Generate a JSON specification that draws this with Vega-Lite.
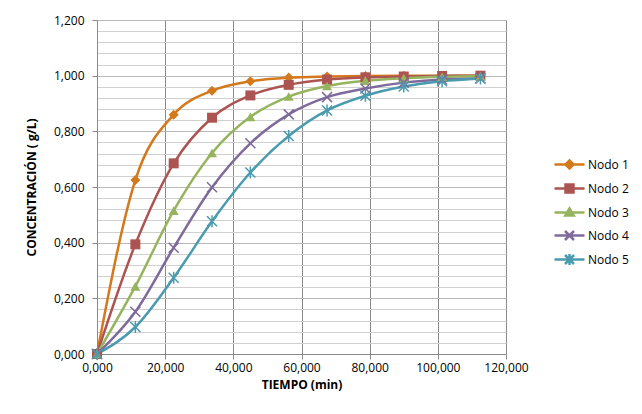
{
  "$schema": "https://vega.github.io/schema/vega-lite/v6.json",
  "width": 409,
  "height": 334,
  "autosize": {"type": "none"},
  "padding": {"left": 97, "top": 20, "right": 136, "bottom": 60},
  "background": "white",
  "config": {
    "view": {"stroke": null},
    "locale": {"number": {"decimal": ",", "thousands": ".", "grouping": [3], "currency": ["", " €"]}},
    "font": "Open Sans",
    "axis": {
      "labelFont": "Open Sans",
      "labelFontSize": 12,
      "labelColor": "#000000",
      "titleFont": "Open Sans",
      "titleFontSize": 12,
      "titleFontWeight": "bold",
      "titleColor": "#000000",
      "domainColor": "#8a8a8a",
      "tickColor": "#8a8a8a",
      "tickSize": 5
    }
  },
  "data": {
    "values": [
      {"Nodo": "Nodo 1", "t": 0, "c": 0},
      {"Nodo": "Nodo 1", "t": 11.25, "c": 0.625},
      {"Nodo": "Nodo 1", "t": 22.5, "c": 0.86},
      {"Nodo": "Nodo 1", "t": 33.75, "c": 0.946},
      {"Nodo": "Nodo 1", "t": 45, "c": 0.98},
      {"Nodo": "Nodo 1", "t": 56.25, "c": 0.993},
      {"Nodo": "Nodo 1", "t": 67.5, "c": 0.997},
      {"Nodo": "Nodo 1", "t": 78.75, "c": 0.999},
      {"Nodo": "Nodo 1", "t": 90, "c": 1.0},
      {"Nodo": "Nodo 1", "t": 101.25, "c": 1.0},
      {"Nodo": "Nodo 1", "t": 112.5, "c": 1.0},
      {"Nodo": "Nodo 2", "t": 0, "c": 0},
      {"Nodo": "Nodo 2", "t": 11.25, "c": 0.394},
      {"Nodo": "Nodo 2", "t": 22.5, "c": 0.685},
      {"Nodo": "Nodo 2", "t": 33.75, "c": 0.849},
      {"Nodo": "Nodo 2", "t": 45, "c": 0.929},
      {"Nodo": "Nodo 2", "t": 56.25, "c": 0.967},
      {"Nodo": "Nodo 2", "t": 67.5, "c": 0.986},
      {"Nodo": "Nodo 2", "t": 78.75, "c": 0.994},
      {"Nodo": "Nodo 2", "t": 90, "c": 0.997},
      {"Nodo": "Nodo 2", "t": 101.25, "c": 0.999},
      {"Nodo": "Nodo 2", "t": 112.5, "c": 1.0},
      {"Nodo": "Nodo 3", "t": 0, "c": 0},
      {"Nodo": "Nodo 3", "t": 11.25, "c": 0.243},
      {"Nodo": "Nodo 3", "t": 22.5, "c": 0.515},
      {"Nodo": "Nodo 3", "t": 33.75, "c": 0.722},
      {"Nodo": "Nodo 3", "t": 45, "c": 0.852},
      {"Nodo": "Nodo 3", "t": 56.25, "c": 0.925},
      {"Nodo": "Nodo 3", "t": 67.5, "c": 0.963},
      {"Nodo": "Nodo 3", "t": 78.75, "c": 0.982},
      {"Nodo": "Nodo 3", "t": 90, "c": 0.991},
      {"Nodo": "Nodo 3", "t": 101.25, "c": 0.996},
      {"Nodo": "Nodo 3", "t": 112.5, "c": 0.998},
      {"Nodo": "Nodo 4", "t": 0, "c": 0},
      {"Nodo": "Nodo 4", "t": 11.25, "c": 0.152},
      {"Nodo": "Nodo 4", "t": 22.5, "c": 0.382},
      {"Nodo": "Nodo 4", "t": 33.75, "c": 0.599},
      {"Nodo": "Nodo 4", "t": 45, "c": 0.757},
      {"Nodo": "Nodo 4", "t": 56.25, "c": 0.861},
      {"Nodo": "Nodo 4", "t": 67.5, "c": 0.923},
      {"Nodo": "Nodo 4", "t": 78.75, "c": 0.954},
      {"Nodo": "Nodo 4", "t": 90, "c": 0.975},
      {"Nodo": "Nodo 4", "t": 101.25, "c": 0.986},
      {"Nodo": "Nodo 4", "t": 112.5, "c": 0.99},
      {"Nodo": "Nodo 5", "t": 0, "c": 0},
      {"Nodo": "Nodo 5", "t": 11.25, "c": 0.097},
      {"Nodo": "Nodo 5", "t": 22.5, "c": 0.274},
      {"Nodo": "Nodo 5", "t": 33.75, "c": 0.477},
      {"Nodo": "Nodo 5", "t": 45, "c": 0.652},
      {"Nodo": "Nodo 5", "t": 56.25, "c": 0.783},
      {"Nodo": "Nodo 5", "t": 67.5, "c": 0.875},
      {"Nodo": "Nodo 5", "t": 78.75, "c": 0.928},
      {"Nodo": "Nodo 5", "t": 90, "c": 0.961},
      {"Nodo": "Nodo 5", "t": 101.25, "c": 0.98},
      {"Nodo": "Nodo 5", "t": 112.5, "c": 0.99}
    ]
  },
  "encoding": {
    "x": {
      "field": "t",
      "type": "quantitative",
      "scale": {"domain": [0, 120], "nice": false, "zero": true},
      "axis": {
        "title": "TIEMPO (min)",
        "values": [0, 20, 40, 60, 80, 100, 120],
        "format": ".3f",
        "grid": true,
        "gridColor": "#8a8a8a",
        "gridWidth": 1,
        "labelFlush": false,
        "labelPadding": 3,
        "titlePadding": 6
      }
    },
    "y": {
      "field": "c",
      "type": "quantitative",
      "scale": {"domain": [0, 1.2], "nice": false},
      "axis": {
        "title": "CONCENTRACIÓN ( g/L)",
        "values": [0, 0.04, 0.08, 0.12, 0.16, 0.2, 0.24, 0.28, 0.32, 0.36, 0.4, 0.44, 0.48, 0.52, 0.56, 0.6, 0.64, 0.68, 0.72, 0.76, 0.8, 0.84, 0.88, 0.92, 0.96, 1.0, 1.04, 1.08, 1.12, 1.16, 1.2],
        "format": ".3f",
        "labelExpr": "abs(datum.value*5 - round(datum.value*5)) < 0.001 ? datum.label : ''",
        "labelOverlap": false,
        "labelFlush": false,
        "labelPadding": 8,
        "grid": true,
        "gridColor": {"condition": {"test": "abs(datum.value*5 - round(datum.value*5)) < 0.001", "value": "#b8b8b8"}, "value": "#d0d0d0"},
        "tickOpacity": {"condition": {"test": "abs(datum.value*5 - round(datum.value*5)) < 0.001", "value": 1}, "value": 0},
        "titlePadding": 15
      }
    },
    "color": {
      "field": "Nodo",
      "type": "nominal",
      "scale": {
        "domain": ["Nodo 1", "Nodo 2", "Nodo 3", "Nodo 4", "Nodo 5"],
        "range": ["#D4781C", "#AC5451", "#96B45E", "#7F6A9B", "#4A9BB0"]
      },
      "legend": {
        "title": null,
        "orient": "none",
        "legendX": 461,
        "legendY": 133,
        "padding": 0,
        "symbolSize": 400,
        "symbolOpacity": 1,
        "symbolStrokeWidth": 2.5,
        "symbolType": {"expr": "datum.value == 'Nodo 1' ? 'M-1.5,0L1.5,0M0,-0.4L0.4,0L0,0.4L-0.4,0Z' : datum.value == 'Nodo 2' ? 'M-1.5,0L1.5,0M-0.4,-0.4L0.4,-0.4L0.4,0.4L-0.4,0.4Z' : datum.value == 'Nodo 3' ? 'M-1.5,0L1.5,0M0,-0.4L0.42,0.3L-0.42,0.3Z' : datum.value == 'Nodo 4' ? 'M-1.5,0L1.5,0M-0.45,-0.45L0.45,0.45M-0.45,0.45L0.45,-0.45' : 'M-1.5,0L1.5,0M-0.45,-0.45L0.45,0.45M-0.45,0.45L0.45,-0.45M0,-0.55L0,0.55'"},
        "labelOffset": 7,
        "rowPadding": 3,
        "labelFont": "Open Sans",
        "labelFontSize": 12,
        "labelColor": "#000000",
        "encode": {
          "symbols": {
            "update": {
              "fill": {"value": {"expr": "(datum.value == 'Nodo 4' || datum.value == 'Nodo 5') ? 'transparent' : scale('color', datum.value)"}},
              "stroke": {"value": {"expr": "scale('color', datum.value)"}},
              "strokeWidth": {"value": 2.5},
              "opacity": {"value": 1}
            }
          }
        }
      }
    }
  },
  "layer": [
    {
      "mark": {"type": "line", "interpolate": "monotone", "strokeWidth": 2.5}
    },
    {
      "transform": [{"filter": "datum.Nodo == 'Nodo 1'"}],
      "mark": {"type": "point", "filled": true, "size": 100, "opacity": 1, "shape": "diamond"}
    },
    {
      "transform": [{"filter": "datum.Nodo == 'Nodo 2'"}],
      "mark": {"type": "point", "filled": true, "size": 100, "opacity": 1, "shape": "square"}
    },
    {
      "transform": [{"filter": "datum.Nodo == 'Nodo 3'"}],
      "mark": {"type": "point", "filled": true, "size": 100, "opacity": 1, "shape": "triangle-up"}
    },
    {
      "transform": [{"filter": "datum.Nodo == 'Nodo 4'"}],
      "mark": {"type": "point", "filled": false, "size": 100, "opacity": 1, "strokeWidth": 1.5, "shape": "M-1,-1L1,1M-1,1L1,-1"}
    },
    {
      "transform": [{"filter": "datum.Nodo == 'Nodo 5'"}],
      "mark": {"type": "point", "filled": false, "size": 100, "opacity": 1, "strokeWidth": 1.5, "shape": "M-1,-1L1,1M-1,1L1,-1M0,-1.2L0,1.2"}
    }
  ]
}
